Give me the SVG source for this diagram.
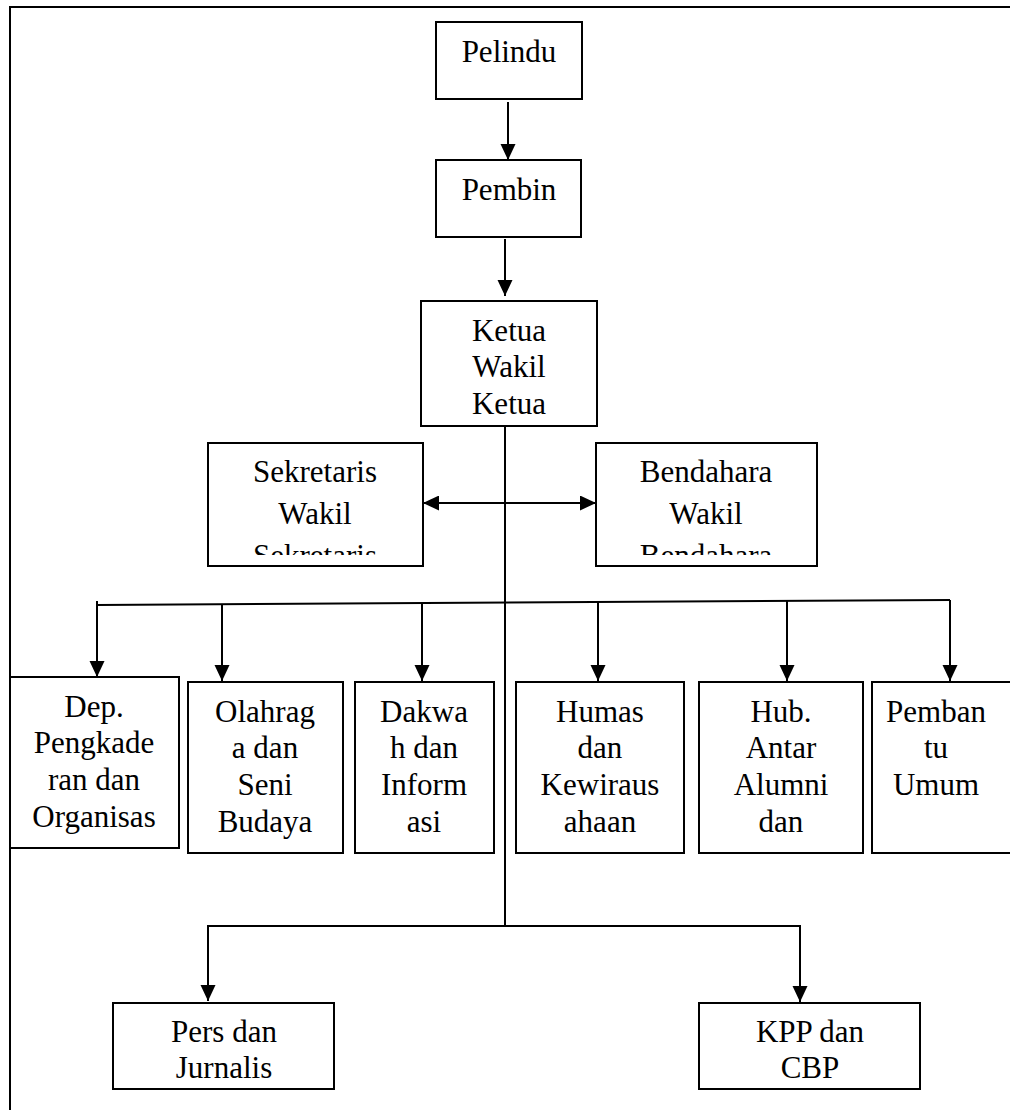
<svg xmlns="http://www.w3.org/2000/svg" width="1010" height="1110" viewBox="0 0 1010 1110">
<style>
.box{fill:#fff;stroke:#000;stroke-width:2}
.t{font-family:"Liberation Serif","Times New Roman",serif;font-size:31px;fill:#000;text-anchor:middle}
.ln{fill:none;stroke:#000;stroke-width:2}
.ar{fill:none;stroke:#000;stroke-width:2;marker-end:url(#ah)}
</style>
<defs>
<marker id="ah" markerUnits="userSpaceOnUse" markerWidth="16" markerHeight="16" refX="16" refY="7.5" orient="auto">
<path d="M0,0 L16,7.5 L0,15 Z" fill="#000"/>
</marker>
<marker id="ahs" markerUnits="userSpaceOnUse" markerWidth="16" markerHeight="16" refX="0" refY="7.5" orient="auto">
<path d="M16,0 L0,7.5 L16,15 Z" fill="#000"/>
</marker>
<clipPath id="cSek"><rect x="208" y="443" width="215" height="112"/></clipPath>
<clipPath id="cBen"><rect x="596" y="443" width="221" height="112"/></clipPath>
<clipPath id="cPers"><rect x="113" y="1003" width="221" height="75"/></clipPath>
<clipPath id="cKpp"><rect x="699" y="1003" width="221" height="75"/></clipPath>
</defs>
<g id="frame">
<line class="ln" x1="10" y1="7" x2="1010" y2="7"/>
<line class="ln" x1="10" y1="6" x2="10" y2="1110"/>
</g>
<g id="connectors">
<line class="ar" x1="508" y1="102" x2="508" y2="160"/>
<line class="ar" x1="505" y1="239" x2="505" y2="296"/>
<line class="ln" x1="505" y1="426" x2="505" y2="926"/>
<line class="ln" x1="423" y1="503" x2="596" y2="503" marker-start="url(#ahs)" marker-end="url(#ah)"/>
<line class="ln" x1="97" y1="605" x2="950" y2="600"/>
<line class="ar" x1="97" y1="601" x2="97" y2="677"/>
<line class="ar" x1="222" y1="604" x2="222" y2="681"/>
<line class="ar" x1="422" y1="603" x2="422" y2="681"/>
<line class="ar" x1="598" y1="602" x2="598" y2="681"/>
<line class="ar" x1="787" y1="601" x2="787" y2="681"/>
<line class="ar" x1="950" y1="600" x2="950" y2="681"/>
<line class="ln" x1="208" y1="926" x2="800" y2="926"/>
<line class="ar" x1="208" y1="925" x2="208" y2="1001"/>
<line class="ar" x1="800" y1="925" x2="800" y2="1002"/>
</g>
<g id="pelindu"><rect class="box" x="436" y="22" width="146" height="77"/><text class="t" x="509" y="62">Pelindu</text></g>
<g id="pembin"><rect class="box" x="436" y="160" width="145" height="77"/><text class="t" x="509" y="200">Pembin</text></g>
<g id="ketua"><rect class="box" x="421" y="301" width="176" height="125"/>
<text class="t" x="509" y="341">Ketua</text><text class="t" x="509" y="377">Wakil</text><text class="t" x="509" y="414">Ketua</text></g>
<g id="sekretaris"><rect class="box" x="208" y="443" width="215" height="123"/>
<g clip-path="url(#cSek)"><text class="t" x="315" y="482">Sekretaris</text><text class="t" x="315" y="524">Wakil</text><text class="t" x="315" y="566">Sekretaris</text></g></g>
<g id="bendahara"><rect class="box" x="596" y="443" width="221" height="123"/>
<g clip-path="url(#cBen)"><text class="t" x="706" y="482">Bendahara</text><text class="t" x="706" y="524">Wakil</text><text class="t" x="706" y="566">Bendahara</text></g></g>
<g id="dep"><rect class="box" x="10" y="677" width="169" height="171"/>
<text class="t" x="94" y="717">Dep.</text><text class="t" x="94" y="753">Pengkade</text><text class="t" x="94" y="790">ran dan</text><text class="t" x="94" y="827">Organisas</text></g>
<g id="olahraga"><rect class="box" x="188" y="682" width="155" height="171"/>
<text class="t" x="265" y="722">Olahrag</text><text class="t" x="265" y="758">a dan</text><text class="t" x="265" y="795">Seni</text><text class="t" x="265" y="832">Budaya</text></g>
<g id="dakwah"><rect class="box" x="355" y="682" width="139" height="171"/>
<text class="t" x="424" y="722">Dakwa</text><text class="t" x="424" y="758">h dan</text><text class="t" x="424" y="795">Inform</text><text class="t" x="424" y="832">asi</text></g>
<g id="humas"><rect class="box" x="516" y="682" width="168" height="171"/>
<text class="t" x="600" y="722">Humas</text><text class="t" x="600" y="758">dan</text><text class="t" x="600" y="795">Kewiraus</text><text class="t" x="600" y="832">ahaan</text></g>
<g id="hub"><rect class="box" x="699" y="682" width="164" height="171"/>
<text class="t" x="781" y="722">Hub.</text><text class="t" x="781" y="758">Antar</text><text class="t" x="781" y="795">Alumni</text><text class="t" x="781" y="832">dan</text></g>
<g id="pembantu"><rect class="box" x="872" y="682" width="145" height="171"/>
<text class="t" x="936" y="722">Pemban</text><text class="t" x="936" y="758">tu</text><text class="t" x="936" y="795">Umum</text></g>
<g id="pers"><rect class="box" x="113" y="1003" width="221" height="86"/>
<g clip-path="url(#cPers)"><text class="t" x="224" y="1042">Pers dan</text><text class="t" x="224" y="1078">Jurnalis</text></g></g>
<g id="kpp"><rect class="box" x="699" y="1003" width="221" height="86"/>
<g clip-path="url(#cKpp)"><text class="t" x="810" y="1042">KPP dan</text><text class="t" x="810" y="1078">CBP</text></g></g>
</svg>
